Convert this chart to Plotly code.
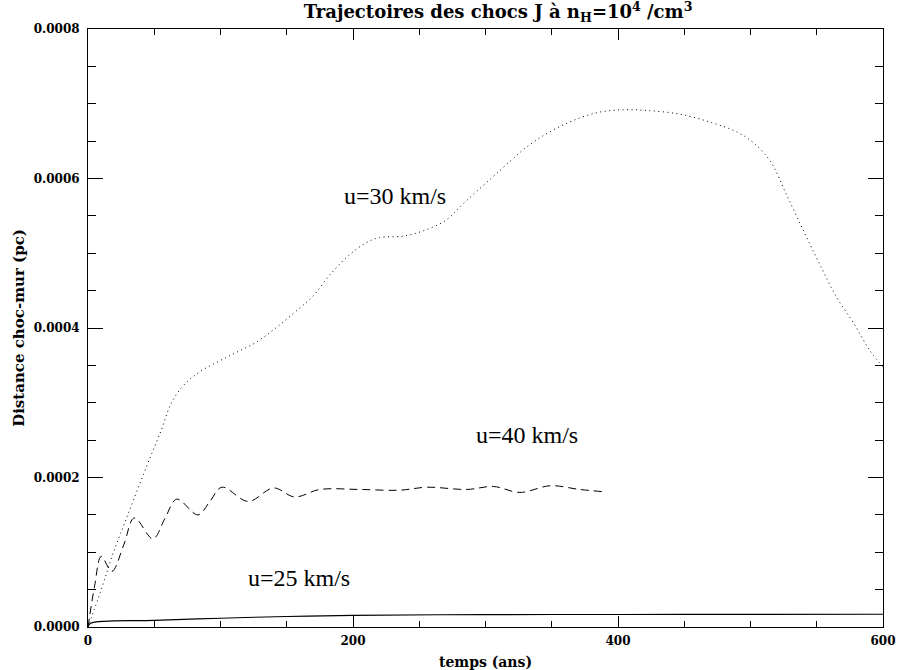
"""Trajectoires des chocs J: distance choc-mur vs temps."""

import plotly.graph_objects as go

# u = 30 km/s (dotted)
t30 = [0, 10, 19, 30, 44, 55, 63, 72, 84, 107, 127, 141, 156, 170, 183, 198, 210,
       220, 238, 253, 270, 283, 308, 334, 359, 384, 404, 422, 447, 472, 490, 502,
       515, 527, 540, 552, 565, 578, 590, 600]
d30 = [0, 0.000050, 0.0000989, 0.000150, 0.000214, 0.000262, 0.000300, 0.000323,
       0.000341, 0.000363, 0.000381, 0.000399, 0.000421, 0.000443, 0.000472,
       0.000499, 0.000514, 0.000521, 0.000523, 0.000530, 0.000544, 0.000566,
       0.000606, 0.000646, 0.000672, 0.000688, 0.000692, 0.000691, 0.000686,
       0.000674, 0.000662, 0.000648, 0.000623, 0.000579, 0.000530, 0.000486,
       0.000441, 0.000406, 0.000370, 0.000348]

# u = 40 km/s (dashed)
t40 = [0, 5, 10, 18, 27, 35, 49, 58, 67, 83, 92, 101, 121, 140, 156, 175, 205,
       235, 256, 286, 306, 326, 349, 371, 389]
d40 = [0, 0.000055, 0.0000944, 0.0000744, 0.000110, 0.000146, 0.000118, 0.000145,
       0.000171, 0.000150, 0.000168, 0.000187, 0.000168, 0.000186, 0.000174,
       0.000184, 0.000184, 0.000183, 0.000187, 0.000184, 0.000188, 0.000180,
       0.000189, 0.000184, 0.000181]

# u = 25 km/s (solid)
t25 = [0, 2, 50, 100, 150, 200, 300, 400, 500, 600]
d25 = [0, 0.0000050, 0.0000088, 0.0000118, 0.0000140, 0.0000156, 0.0000165,
       0.0000168, 0.0000169, 0.0000170]

labels = ["u=30 km/s", "u=40 km/s", "u=25 km/s"]
label_x = [232, 331, 159]
label_y = [0.000577, 0.000257, 0.0000660]

font_axes = "DejaVu Serif"

fig = go.Figure()
fig.add_trace(go.Scatter(x=t30, y=d30, mode="lines", line_shape="spline",
                         line=dict(color="black", width=1, dash="1px,3.5px")))
fig.add_trace(go.Scatter(x=t40, y=d40, mode="lines", line_shape="spline",
                         line=dict(color="black", width=1, dash="8px,5px")))
fig.add_trace(go.Scatter(x=t25, y=d25, mode="lines", line_shape="spline",
                         line=dict(color="black", width=1.1)))

for txt, x, y in zip(labels, label_x, label_y):
    fig.add_annotation(x=x, y=y, text=txt, showarrow=False,
                       font=dict(family="Liberation Serif", size=24, color="black"))

axis_common = dict(
    showgrid=False, zeroline=False, showline=True, linecolor="black", linewidth=1,
    mirror="ticks", ticks="inside", tickcolor="black", automargin=False,
    tickfont=dict(family=font_axes, size=12, color="black", weight="bold"),
)

fig.update_xaxes(
    range=[0, 600], tickvals=[0, 200, 400, 600], ticklen=11,
    ticklabelstandoff=3,
    minor=dict(ticks="inside", dtick=50, ticklen=6, tickcolor="black"),
    title=dict(text="<b>temps (ans)</b>", standoff=9,
               font=dict(family=font_axes, size=14, color="black")),
    **axis_common,
)
fig.update_yaxes(
    range=[0, 0.0008], tickvals=[0, 0.0002, 0.0004, 0.0006, 0.0008],
    tickformat=".4f", ticklen=15, ticklabelstandoff=5,
    minor=dict(ticks="inside", dtick=0.00005, ticklen=8, tickcolor="black"),
    title=dict(text="<b>Distance choc-mur (pc)</b>", standoff=5,
               font=dict(family=font_axes, size=15, color="black")),
    **axis_common,
)

fig.update_layout(
    width=899, height=670,
    margin=dict(l=88, r=16, t=29, b=43),
    paper_bgcolor="white", plot_bgcolor="white",
    showlegend=False,
    title=dict(
        text="<b>Trajectoires des chocs J à n<sub>H</sub>=10<sup>4</sup> /cm<sup>3</sup></b>",
        x=0.554, xanchor="center", y=0.9915, yanchor="top",
        font=dict(family=font_axes, size=18, color="black"),
    ),
)

# drop the browser's default 8px body margin so the figure fills the window
fig.write_html("out.html", config={"displayModeBar": False},
               post_script="document.body.style.margin='0';")
